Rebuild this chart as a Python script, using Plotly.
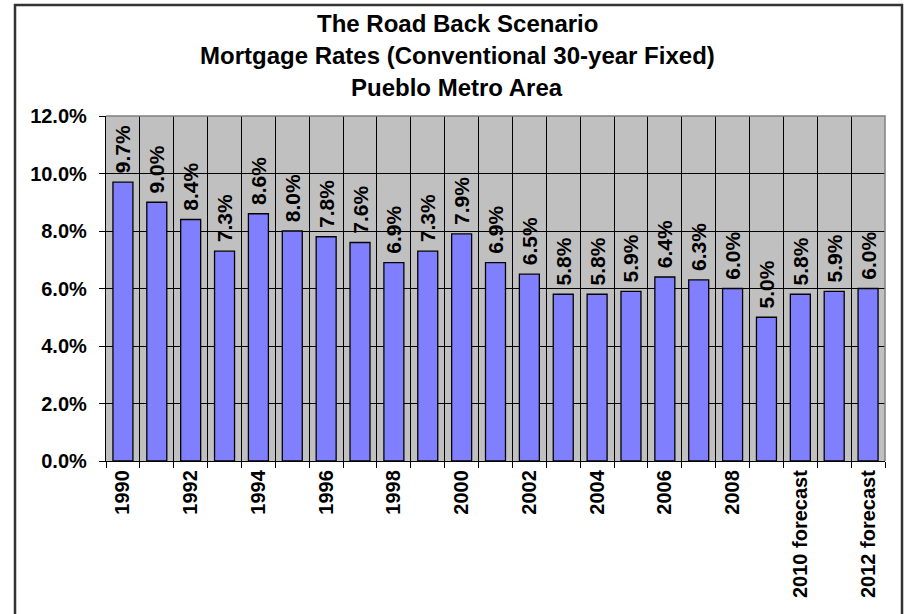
import plotly.graph_objects as go

categories = ["1990", "1991", "1992", "1993", "1994", "1995", "1996", "1997", "1998", "1999",
              "2000", "2001", "2002", "2003", "2004", "2005", "2006", "2007", "2008", "2009",
              "2010 forecast", "2011", "2012 forecast"]
rates = [0.097, 0.090, 0.084, 0.073, 0.086, 0.080, 0.078, 0.076, 0.069, 0.073,
         0.079, 0.069, 0.065, 0.058, 0.058, 0.059, 0.064, 0.063, 0.060, 0.050,
         0.058, 0.059, 0.060]
tick_text = [c if i % 2 == 0 else "" for i, c in enumerate(categories)]
title_lines = ["The Road Back Scenario",
               "Mortgage Rates (Conventional 30-year Fixed)",
               "Pueblo Metro Area"]

FONT = "Liberation Sans, Arial, sans-serif"

fig = go.Figure()
fig.add_trace(go.Bar(
    x=categories, y=rates,
    marker=dict(color="#8080FF", line=dict(color="black", width=1.3)),
    texttemplate=" %{y:.1%}",
    textposition="outside",
    textangle=-90,
    cliponaxis=False,
    constraintext="none",
    textfont=dict(family=FONT, size=21, color="black", weight="bold"),
    hoverinfo="x+y",
))

# plot area pixel geometry: left 106, right 885, top 116, bottom 461
L, R, T, B = 106, 885, 116, 461
W, H = 909, 614
pw, ph = R - L, B - T

def px_x(p):
    return (p - L) / pw

def px_y(p):
    return (B - p) / ph

annotations = []
for line, yc in zip(title_lines, [23, 56, 88]):
    annotations.append(dict(
        text=line, xref="paper", yref="paper", x=px_x(457), y=px_y(yc),
        xanchor="center", yanchor="middle", showarrow=False,
        font=dict(family=FONT, size=24, color="black", weight="bold")))

shapes = [
    # gray top/right border of plot area
    dict(type="path", xref="paper", yref="paper", path="M 0,1 L 1,1 L 1,0",
         line=dict(color="#808080", width=1.5), layer="above"),
    # outer chart frame
    dict(type="rect", xref="paper", yref="paper",
         x0=px_x(15), x1=px_x(902), y0=px_y(700), y1=px_y(5),
         line=dict(color="#333333", width=2.5), layer="above"),
]

fig.update_layout(
    width=W, height=H,
    margin=dict(l=L, r=W - R, t=T, b=H - B, pad=0),
    paper_bgcolor="white",
    plot_bgcolor="#C0C0C0",
    bargap=0.41,
    showlegend=False,
    annotations=annotations,
    shapes=shapes,
    font=dict(family=FONT, color="black"),
)
fig.update_xaxes(
    type="category",
    tickmode="array", tickvals=categories, ticktext=tick_text,
    tickson="boundaries",
    ticks="outside", ticklen=6, tickcolor="black", tickwidth=1,
    tickangle=-90,
    tickfont=dict(family=FONT, size=20, color="black", weight="bold"),
    showgrid=True, gridcolor="black", gridwidth=1,
    showline=True, linecolor="black", linewidth=1.3,
    automargin=False,
)
fig.update_yaxes(
    range=[0, 0.12], dtick=0.02, tick0=0,
    tickformat=".1%",
    ticks="outside", ticklen=6, tickcolor="black", tickwidth=1,
    ticklabelstandoff=8,
    tickfont=dict(family=FONT, size=20, color="black", weight="bold"),
    showgrid=True, gridcolor="black", gridwidth=1,
    showline=True, linecolor="black", linewidth=1.3,
    zeroline=False,
    automargin=False,
)

fig.write_html("out.html",
               config={"displayModeBar": False},
               post_script="document.body.style.margin='0';document.body.style.overflow='hidden';")
